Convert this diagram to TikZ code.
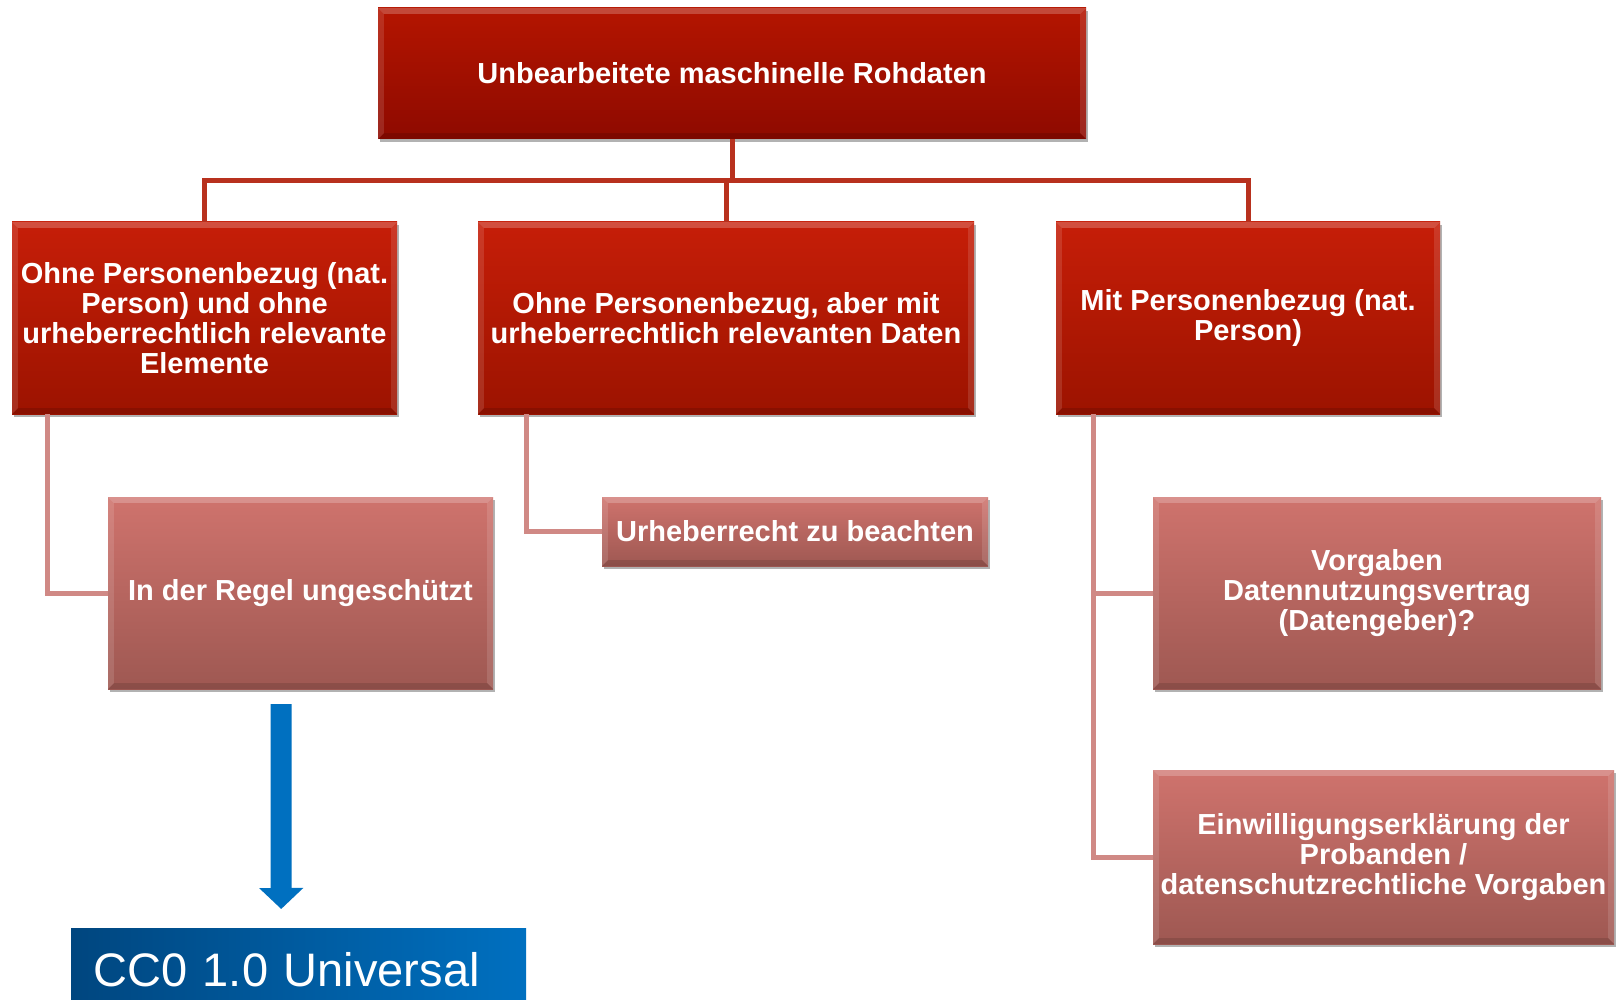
\documentclass[tikz,border=0pt]{standalone}
\usepackage{fontspec}
\setmainfont{Liberation Sans}
\usetikzlibrary{shadows,arrows.meta}
\definecolor{topT}{HTML}{B41500}
\definecolor{topB}{HTML}{8E0A00}
\definecolor{midT}{HTML}{C61E08}
\definecolor{midB}{HTML}{9C1300}
\definecolor{pinkT}{HTML}{CF736D}
\definecolor{pinkB}{HTML}{9E5852}
\definecolor{redline}{HTML}{B8311E}
\definecolor{pinkline}{HTML}{D08985}
\definecolor{ccblue}{HTML}{0070C0}
\definecolor{ccdark}{HTML}{00467F}
\newcommand\bevelbox[1]{%
 \fill[white,opacity=.22] (#1.north west) -- (#1.north east) -- ([shift={(-6pt,-6pt)}]#1.north east) -- ([shift={(6pt,-6pt)}]#1.north west) -- cycle;
 \fill[white,opacity=.12] (#1.north west) -- ([shift={(6pt,-6pt)}]#1.north west) -- ([shift={(6pt,6pt)}]#1.south west) -- (#1.south west) -- cycle;
 \fill[white,opacity=.12] (#1.north east) -- ([shift={(-6pt,-6pt)}]#1.north east) -- ([shift={(-6pt,6pt)}]#1.south east) -- (#1.south east) -- cycle;
 \fill[black,opacity=.12] (#1.south west) -- ([shift={(6pt,6pt)}]#1.south west) -- ([shift={(-6pt,6pt)}]#1.south east) -- (#1.south east) -- cycle;}
\begin{document}
\begin{tikzpicture}[x=1pt,y=-1pt,
  box/.style={rectangle, inner sep=2pt, align=center, text=white,
    font=\bfseries\fontsize{29}{30.2}\selectfont,
    drop shadow={shadow xshift=1.5pt, shadow yshift=-3pt, opacity=.3, fill=black}},
  lvlone/.style={box, top color=topT, bottom color=topB},
  lvltwo/.style={box, top color=midT, bottom color=midB},
  lvlthree/.style={box, top color=pinkT, bottom color=pinkB},
  conn/.style={draw=redline, line width=5pt},
  pconn/.style={draw=pinkline, line width=5pt},
  ccbox/.style={rectangle, left color=ccdark, right color=ccblue, text=white,
    font=\fontsize{47}{56}\selectfont, align=left, inner xsep=22pt, inner ysep=0pt},
  bluearrow/.style={draw=ccblue, line width=21pt, -{Triangle[width=43pt,length=21pt]}}
]
\fill[white] (0,0) rectangle (1617,1000);
\useasboundingbox (0,0) rectangle (1617,1000);

\node[lvlone, minimum width=708pt, minimum height=131pt] (T) at (732,73.5) {Unbearbeitete maschinelle Rohdaten};
\node[lvltwo, minimum width=385pt, minimum height=192pt] (A) at (204.5,318) {Ohne Personenbezug (nat.\\Person) und ohne\\urheberrechtlich relevante\\Elemente};
\node[lvltwo, minimum width=496pt, minimum height=192pt] (B) at (726,318) {Ohne Personenbezug, aber mit\\urheberrechtlich relevanten Daten};
\node[lvltwo, minimum width=384pt, minimum height=192pt] (C) at (1248,318) {Mit Personenbezug (nat.\\Person)};
\node[lvlthree, minimum width=385pt, minimum height=192pt] (A1) at (300.5,593) {In der Regel ungeschützt};
\node[lvlthree, minimum width=386pt, minimum height=69pt] (B1) at (795,531.5) {Urheberrecht zu beachten};
\node[lvlthree, minimum width=448pt, minimum height=192pt] (C1) at (1377,593) {Vorgaben\\Datennutzungsvertrag\\(Datengeber)?};
\node[lvlthree, minimum width=461pt, minimum height=174pt] (C2) at (1383.5,857) {Einwilligungserklärung der\\Probanden /\\datenschutzrechtliche Vorgaben};
\node[ccbox, anchor=north west, text width=411pt, minimum height=82pt] (CC) at (71,928) {CC0 1.0 Universal};

\foreach \n in {T,A,B,C,A1,B1,C1,C2} {\bevelbox{\n}}

\draw[conn] (T.south) -- ++(0,41) -| (A.north);
\draw[conn] (T.south) -- ++(0,41) -| (B.north);
\draw[conn] (T.south) -- ++(0,41) -| (C.north);

\draw[pconn] ([xshift=36pt]A.south west) |- (A1.west);
\draw[pconn] ([xshift=49pt]B.south west) |- (B1.west);
\draw[pconn] ([xshift=38pt]C.south west) |- (C1.west);
\draw[pconn] ([xshift=38pt]C.south west) |- (C2.west);

\draw[bluearrow] ([xshift=-19.5pt,yshift=-15pt]A1.south) -- ([xshift=-17.5pt,yshift=19pt]CC.north);
\end{tikzpicture}
\end{document}
